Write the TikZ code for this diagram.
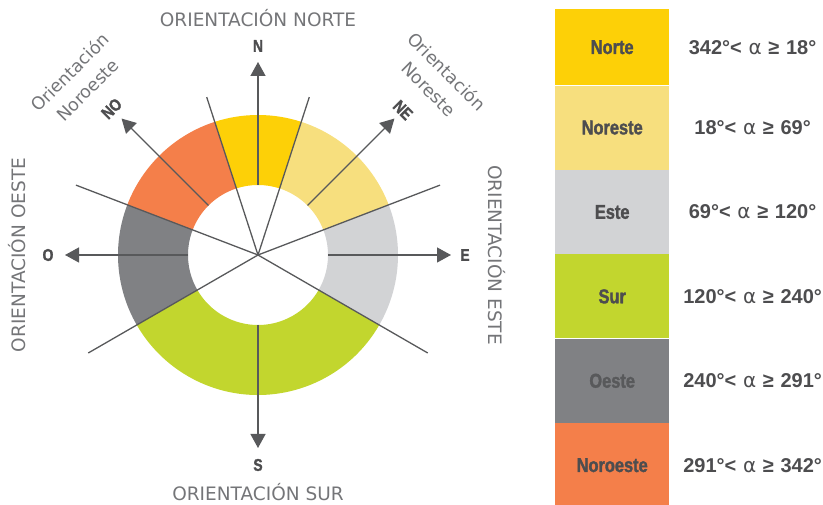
\documentclass[tikz,border=0pt]{standalone}
\usepackage{fontspec}
\setmainfont{Liberation Sans}
\newfontfamily\lightfont{DejaVu Sans}
\newfontfamily\condfont[FakeStretch=0.82, FakeBold=1.6]{Liberation Sans Bold}
\usetikzlibrary{arrows.meta,positioning}

\definecolor{cnorte}{HTML}{FDD007}
\definecolor{cnoreste}{HTML}{F7DF7E}
\definecolor{ceste}{HTML}{D2D3D5}
\definecolor{csur}{HTML}{C2D62E}
\definecolor{coeste}{HTML}{808184}
\definecolor{cnoroeste}{HTML}{F47F4A}
\definecolor{cline}{HTML}{58595B}
\definecolor{ctext}{HTML}{4D4D4F}
\definecolor{clight}{HTML}{747578}

\newcommand{\alfa}{{\lightfont\mdseries α}}

\tikzset{
  ray/.style={draw=cline, line width=1.3pt},
  pointer/.style={draw=cline, line width=1.3pt, -{Triangle[length=14pt,width=15pt]}},
  dirlabel/.style={text=ctext, font=\condfont\fontsize{17}{17}\selectfont, inner sep=0pt},
  bigtitle/.style={text=clight, font=\lightfont\fontsize{18.5}{20}\selectfont, inner sep=0pt, anchor=base},
  subtitle/.style={text=clight, font=\lightfont\fontsize{17.5}{25}\selectfont, align=center, inner sep=0pt},
  legendbox/.style={rectangle, minimum width=114pt, minimum height=84pt, inner sep=0pt, text=ctext, font=\condfont\fontsize{20}{20}\selectfont},
  rangetext/.style={text=ctext, font=\bfseries\fontsize{20}{20}\selectfont, text width=150pt, align=center, inner sep=0pt}
}

\begin{document}
\begin{tikzpicture}[x=1pt,y=1pt]
    \useasboundingbox (0,0) rectangle (823,505);
    \coordinate (c) at (258,250);

    % ring sectors
    \foreach \a/\b/\col in {342/378/cnorte, 18/69/cnoreste, 69/120/ceste, 120/240/csur, 240/291/coeste, 291/342/cnoroeste}
        \fill[\col] ([shift={(90-\a:140)}]c) arc[start angle=90-\a, end angle=90-\b, radius=140]
            -- ([shift={(90-\b:70)}]c) arc[start angle=90-\b, end angle=90-\a, radius=70] -- cycle;

    % limits
    \foreach \a/\r in {342/166, 18/166, 69/195, 120/196, 240/196, 291/195} {
        \coordinate (ray\a) at ([shift={(90-\a:\r)}]c);
        \draw[ray] (c) -- (ray\a);
    }

    % compass arrows
    \foreach \a/\n in {0/n, 45/ne, 90/e, 180/s, 270/o, 315/no} {
        \coordinate (\n-in) at ([shift={(90-\a:70)}]c);
        \coordinate (\n-out) at ([shift={(90-\a:193)}]c);
        \draw[pointer] (\n-in) -- (\n-out);
    }

    \node (lbln) [dirlabel] at ([shift={(90:209)}]c) {N};
    \node (lble) [dirlabel] at ([shift={(0:207)}]c) {E};
    \node (lbls) [dirlabel] at ([shift={(270:210)}]c) {S};
    \node (lblo) [dirlabel] at ([shift={(180:210)}]c) {O};
    \node (lblne) [dirlabel, rotate=-45] at ([shift={(45:205)}]c) {NE};
    \node (lblno) [dirlabel, rotate=45] at ([shift={(135:207)}]c) {NO};

    % titles
    \node (tnorte) [bigtitle] at (258,478) {ORIENTACIÓN NORTE};
    \node (tsur) [bigtitle] at (258,4) {ORIENTACIÓN SUR};
    \node (toeste) [bigtitle, rotate=90] at (25,250) {ORIENTACIÓN OESTE};
    \node (teste) [bigtitle, rotate=-90] at (488,250) {ORIENTACIÓN ESTE};
    \node (snoroeste) [subtitle, rotate=45] at (78.5,424) {Orientación\\Noroeste};
    \node (snoreste) [subtitle, rotate=-45] at (438,425) {Orientación\\Noreste};

    % legend
    \node (bnorte) [legendbox, fill=cnorte, minimum height=76pt, anchor=north west] at (555,496) {Norte};
    \node (bnoreste) [legendbox, fill=cnoreste, below=0pt of bnorte] {Noreste};
    \node (beste) [legendbox, fill=ceste, below=0pt of bnoreste] {Este};
    \node (bsur) [legendbox, fill=csur, below=0pt of beste] {Sur};
    \node (boeste) [legendbox, fill=coeste, text=cline, below=0pt of bsur] {Oeste};
    \node (bnoroeste) [legendbox, fill=cnoroeste, below=0pt of boeste] {Noroeste};

    \node (rnorte) [rangetext, right=8pt of bnorte] {342°< \alfa{} ≥ 18°};
    \node (rnoreste) [rangetext, right=8pt of bnoreste] {18°< \alfa{} ≥ 69°};
    \node (reste) [rangetext, right=8pt of beste] {69°< \alfa{} ≥ 120°};
    \node (rsur) [rangetext, right=8pt of bsur] {120°< \alfa{} ≥ 240°};
    \node (roeste) [rangetext, right=8pt of boeste] {240°< \alfa{} ≥ 291°};
    \node (rnoroeste) [rangetext, right=8pt of bnoroeste] {291°< \alfa{} ≥ 342°};
\end{tikzpicture}
\end{document}
